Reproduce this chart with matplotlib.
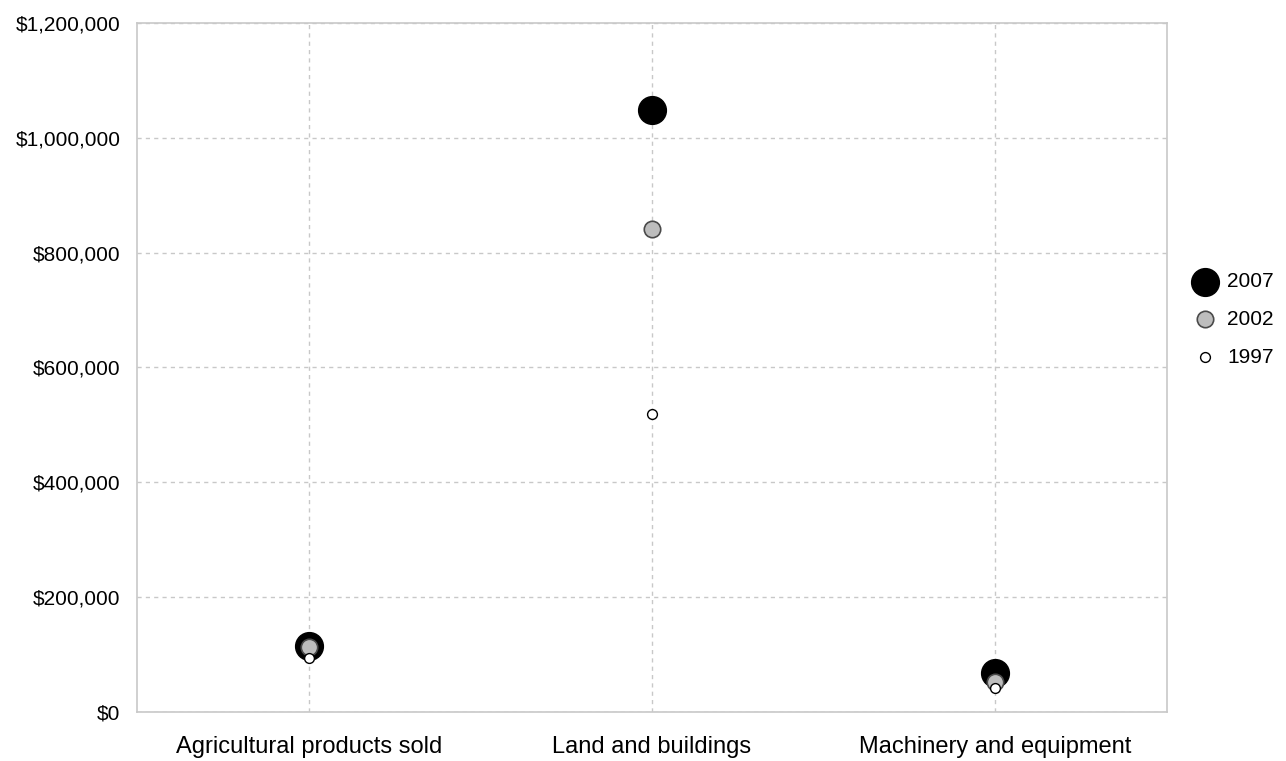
import matplotlib.pyplot as plt
from matplotlib.ticker import FuncFormatter

plt.rcParams['font.family'] = ['Liberation Sans', 'DejaVu Sans']

categories = ["Agricultural products sold", "Land and buildings", "Machinery and equipment"]
years = ["2007", "2002", "1997"]
v2007 = [115000, 1048000, 68000]
v2002 = [113000, 841000, 52000]
v1997 = [94000, 519000, 42000]

fig = plt.figure(figsize=(12.86, 7.61), dpi=100)
ax = fig.add_axes([0.1065, 0.0644, 0.801, 0.9054])

x = range(len(categories))
ax.scatter(x, v2007, s=400, c='black', edgecolors='black', zorder=3, label=years[0])
ax.scatter(x, v2002, s=140, c='#bdbdbd', edgecolors='#4a4a4a', linewidths=1.2, zorder=4, label=years[1])
ax.scatter(x, v1997, s=50, c='white', edgecolors='black', linewidths=1.0, zorder=5, label=years[2])

ax.set_xlim(-0.5, 2.5)
ax.set_ylim(0, 1200000)
ax.set_yticks(range(0, 1200001, 200000))
ax.yaxis.set_major_formatter(FuncFormatter(lambda v, p: "${:,.0f}".format(v)))
ax.set_xticks(list(x))
ax.set_xticklabels(categories, fontsize=17)
ax.tick_params(axis='y', labelsize=15, length=0, pad=12)
ax.tick_params(axis='x', length=0, pad=17)

ax.grid(True, color='#c8c8c8', linestyle=(0, (3, 3)), linewidth=1)
ax.set_axisbelow(True)
for s in ax.spines.values():
    s.set_color('#c8c8c8')
    s.set_linewidth(1.2)

ax.legend(loc='center left', bbox_to_anchor=(1.0, 0.57), frameon=False,
          fontsize=15, labelspacing=0.9, handletextpad=0.1, borderaxespad=0.4,
          markerscale=1.0)

fig.savefig("out.png", dpi=100)
